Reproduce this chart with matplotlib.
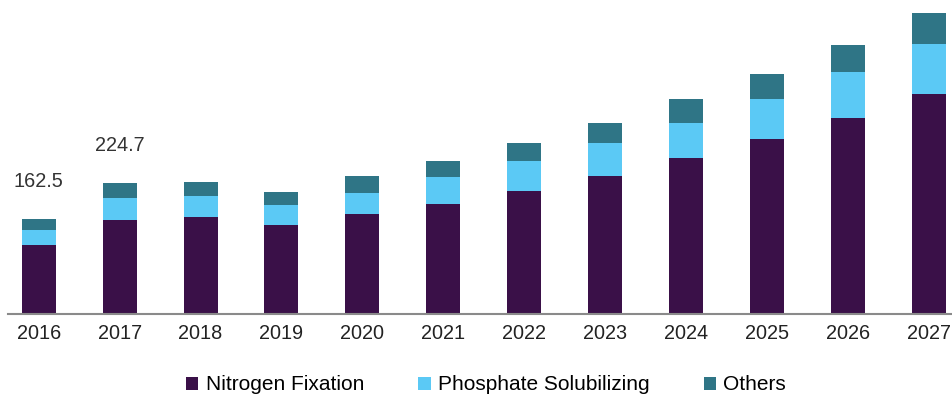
import numpy as np
import matplotlib.pyplot as plt

plt.rcParams['font.family'] = ['Liberation Sans', 'DejaVu Sans']

# market size by segment
years = ['2016', '2017', '2018', '2019', '2020', '2021', '2022', '2023', '2024', '2025', '2026', '2027']
nitrogen = [117.9, 161.5, 166.1, 152.9, 171.3, 189.0, 211.8, 237.1, 268.5, 300.1, 337.2, 377.4]
phosphate = [26.3, 38.3, 37.1, 34.4, 37.1, 45.9, 50.5, 56.2, 59.1, 68.7, 78.0, 86.9]
others = [18.3, 24.9, 24.1, 22.3, 29.2, 27.5, 30.9, 34.4, 41.2, 43.0, 46.4, 52.2]
labelled = {0: '162.5', 1: '224.7'}

c_nit = '#3a1048'
c_pho = '#5bc9f5'
c_oth = '#2f7586'

fig = plt.figure(figsize=(9.53, 3.94), dpi=100)
ax = fig.add_axes([8 / 953, 80 / 394, 945 / 953, 314 / 394])

x = np.arange(len(years))
w = 0.42
nit = np.array(nitrogen)
pho = np.array(phosphate)
oth = np.array(others)

ax.bar(x, nit, w, color=c_nit, label='Nitrogen Fixation')
ax.bar(x, pho, w, bottom=nit, color=c_pho, label='Phosphate Solubilizing')
ax.bar(x, oth, w, bottom=nit + pho, color=c_oth, label='Others')

totals = nit + pho + oth
for i, txt in labelled.items():
    ax.annotate(txt, (x[i], totals[i]), xytext=(0, 27), textcoords='offset points',
                ha='center', va='center', fontsize=14.3, color='#333333')

ax.set_xlim(-0.38, 11.3)
ax.set_ylim(0, 539)
ax.set_xticks(x)
ax.set_xticklabels(years, fontsize=14.3, color='#222222')
ax.tick_params(axis='x', length=0, pad=7)
ax.set_yticks([])
for s in ['top', 'right', 'left']:
    ax.spines[s].set_visible(False)
ax.spines['bottom'].set_color('#8a8a8a')
ax.spines['bottom'].set_linewidth(1.5)

fig.legend(loc='center', bbox_to_anchor=(486 / 953, 9 / 394), ncol=3, frameon=False,
           fontsize=15, handlelength=0.6, handleheight=0.6, handletextpad=0.35,
           columnspacing=2.6)

fig.savefig('out.png', dpi=100)
